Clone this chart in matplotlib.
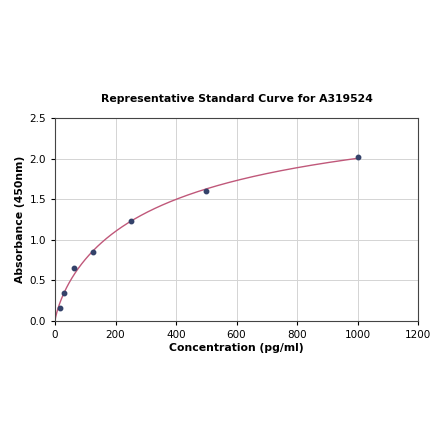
import numpy as np
import matplotlib
matplotlib.use("Agg")
import matplotlib.pyplot as plt

# standard points
conc = [15.625, 31.25, 62.5, 125, 250, 500, 1000]
absorb = [0.16, 0.34, 0.65, 0.85, 1.23, 1.60, 2.02]

x = np.array(conc)
y = np.array(absorb)

# simple 4PL-type fit (bottom fixed at 0): grid over slope and midpoint, top by least squares
best = None
for b in np.linspace(0.4, 1.5, 111):
    for c in np.linspace(50, 3000, 591):
        g = 1 - 1 / (1 + (x / c) ** b)
        d = np.dot(g, y) / np.dot(g, g)
        err = np.sum((d * g - y) ** 2)
        if best is None or err < best[0]:
            best = (err, b, c, d)
_, b, c, d = best

xfit = np.linspace(0, 1000, 500)
yfit = d * (1 - 1 / (1 + (xfit / c) ** b))

fig = plt.figure(figsize=(4.4, 4.41), dpi=100)
ax = fig.add_axes([0.125, 0.272, 0.825, 0.46])

ax.plot(xfit, yfit, color="#c0587a", lw=1.0, zorder=2)
ax.plot(x, y, "o", color="#34426a", ms=3.2, zorder=3)

ax.set_xlim(0, 1200)
ax.set_ylim(0, 2.5)
ax.set_xticks(np.arange(0, 1201, 200))
ax.set_yticks(np.arange(0, 2.51, 0.5))
ax.grid(True, color="#d4d4d4", lw=0.7)
ax.set_axisbelow(True)
ax.tick_params(labelsize=7.5, length=3)
for s in ax.spines.values():
    s.set_color("#444444")
    s.set_linewidth(0.8)

ax.set_xlabel("Concentration (pg/ml)", fontsize=7.8, fontweight="bold", labelpad=2)
ax.set_ylabel("Absorbance (450nm)", fontsize=7.8, fontweight="bold", labelpad=3)
ax.set_title("Representative Standard Curve for A319524", fontsize=7.8, fontweight="bold", pad=12)

fig.savefig("out.png", dpi=100)
